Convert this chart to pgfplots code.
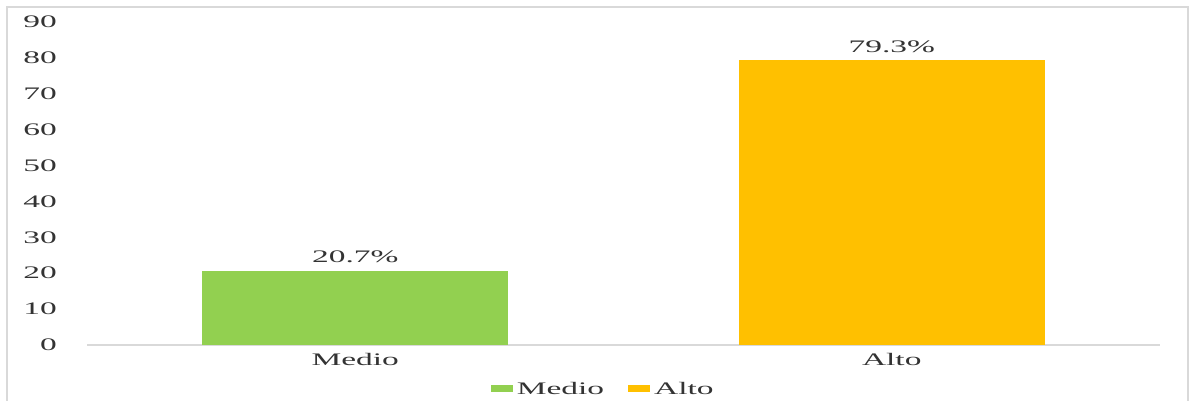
\documentclass[border=0pt]{standalone}
\usepackage{fontspec}
\setmainfont[FakeStretch=1.9]{Liberation Serif}
\usepackage{pgfplots}
\pgfplotsset{compat=1.18}
\definecolor{cMedio}{HTML}{92D050}
\definecolor{cAlto}{HTML}{FFC000}
\definecolor{gridg}{HTML}{D9D9D9}
\definecolor{txt}{HTML}{333333}
\begin{document}
\fontsize{8.8pt}{10pt}\selectfont
\begin{tikzpicture}
\useasboundingbox (0,0) rectangle (597pt,200.5pt);
\draw[gridg,line width=0.8pt] (3.5pt,-5pt) -- (3.5pt,197pt) -- (594pt,197pt) -- (594pt,-5pt);
\begin{axis}[
  at={(43.5pt,28pt)}, anchor=south west,
  scale only axis,
  width=536.5pt, height=161.5pt,
  xmin=-0.5, xmax=1.5, ymin=0, ymax=90,
  ytick={0,10,...,90},
  xtick={0,1}, xticklabels={Medio,Alto},
  axis x line*=bottom, axis y line*=left,
  y axis line style={draw=none},
  x axis line style={draw=gridg,line width=0.8pt,-},
  major tick length=0pt,
  tick style={draw=none},
  /pgf/number format/assume math mode=true,
  ticklabel style={font=\fontsize{8.8pt}{10pt}\selectfont, text=txt},
  yticklabel style={xshift=-12pt},
  xticklabel style={yshift=-1pt},
  ybar, bar width=153pt,
  nodes near coords={\pgfmathprintnumber[fixed,precision=1,assume math mode=true]{\pgfplotspointmeta}\%},
  every node near coord/.append style={font=\fontsize{8.8pt}{10pt}\selectfont, text=txt, yshift=0.8pt},
  legend style={at={(0.482,-0.139)}, anchor=center, draw=none, fill=none,
    legend columns=2, font=\fontsize{8.8pt}{10pt}\selectfont, text=txt,
    /tikz/every even column/.append style={column sep=10pt}},
  legend image code/.code={\fill[#1] (0pt,-1.2pt) rectangle (11pt,2.3pt);},
]
\addplot[fill=cMedio, draw=none, bar shift=0pt] coordinates {(0,20.7)};
\addplot[fill=cAlto, draw=none, bar shift=0pt] coordinates {(1,79.3)};
\legend{Medio,Alto}
\end{axis}
\end{tikzpicture}
\end{document}
